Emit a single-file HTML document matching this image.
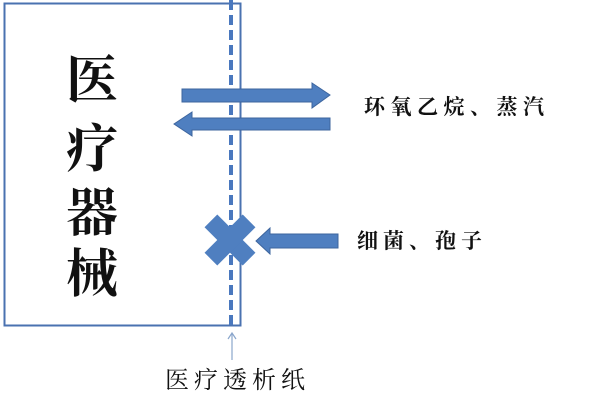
<!DOCTYPE html>
<html><head><meta charset="utf-8"><style>
body{margin:0;width:600px;height:400px;background:#fff;overflow:hidden;position:relative;font-family:"Liberation Serif","Noto Serif CJK SC",serif;}
.t{position:absolute;color:#111;white-space:nowrap;line-height:1;}
</style></head><body>
<svg width="600" height="400" style="position:absolute;left:0;top:0">
<rect x="4.5" y="3.5" width="236" height="322" fill="none" stroke="#4a72b0" stroke-width="2"/>
<line x1="231" y1="0" x2="231" y2="325" stroke="#4a78be" stroke-width="4" stroke-dasharray="10,5"/>
<polygon points="182,89 312,89 312,83 330,95 312,108 312,102 182,102" fill="#4f7fc0" stroke="#3d659e" stroke-width="1"/>
<polygon points="330,118 192,118 192,112 174,124 192,136 192,130 330,130" fill="#4f7fc0" stroke="#3d659e" stroke-width="1"/>
<g transform="translate(230,240) rotate(45)">
<rect x="-27" y="-9" width="54" height="18" fill="#4f7fc0"/>
<rect x="-9" y="-27" width="18" height="54" fill="#4f7fc0"/>
</g>
<polygon points="338,234 270,234 270,228 256,241 270,254 270,248 338,248" fill="#4f7fc0" stroke="#3d659e" stroke-width="1"/>
<line x1="232" y1="360" x2="232" y2="334" stroke="#8aa6cc" stroke-width="1.2"/>
<polyline points="228,339 232,333 236,339" fill="none" stroke="#8aa6cc" stroke-width="1.2"/>
</svg>
<div class="t" style="left:66px;top:56px;font-size:52px;font-weight:bold;">医</div>
<div class="t" style="left:66px;top:125px;font-size:52px;font-weight:bold;">疗</div>
<div class="t" style="left:66px;top:189px;font-size:52px;font-weight:bold;">器</div>
<div class="t" style="left:66px;top:250px;font-size:52px;font-weight:bold;">械</div>
<div class="t" style="left:364px;top:97px;font-size:21px;letter-spacing:5.5px;font-weight:bold;">环氧乙烷、蒸汽</div>
<div class="t" style="left:357px;top:231px;font-size:21px;letter-spacing:5px;font-weight:bold;">细菌、孢子</div>
<div class="t" style="left:165px;top:369px;font-size:24px;letter-spacing:5px;">医疗透析纸</div>
</body></html>
